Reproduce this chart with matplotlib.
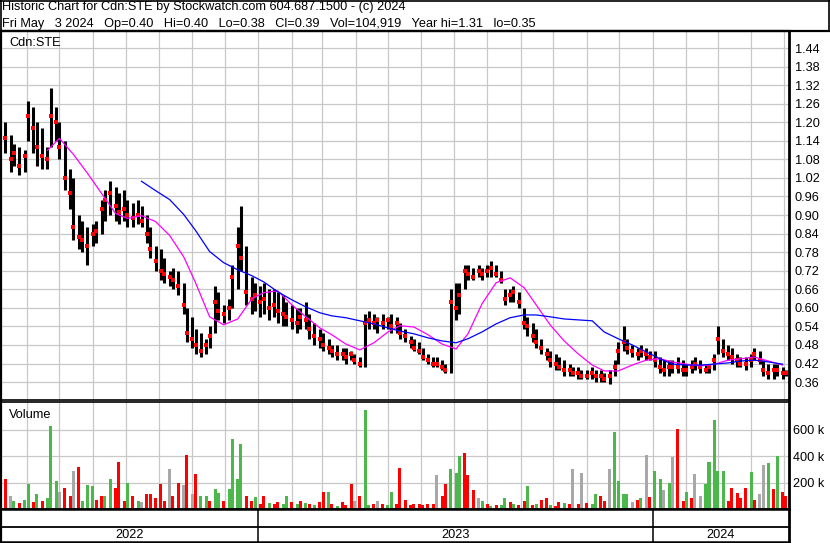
import matplotlib
matplotlib.use('Agg')
import matplotlib.pyplot as plt
from matplotlib.lines import Line2D
import numpy as np
import pandas as pd

plt.rcParams['font.family'] = ['Liberation Sans', 'DejaVu Sans']

# -------- header / labels
title1 = "Historic Chart for Cdn:STE by Stockwatch.com 604.687.1500 - (c) 2024"
title2 = "Fri May   3 2024   Op=0.40   Hi=0.40   Lo=0.38   Cl=0.39   Vol=104,919   Year hi=1.31   lo=0.35"
symbol = "Cdn:STE"
years = ['2022', '2023', '2024']
last_day = '2024-05-03'

# -------- price bars (one bar every 3 trading days)
hi = [1.20, 1.16, 1.13, 1.12, 1.11, 1.27, 1.25, 1.20, 1.18, 1.12,
      1.31, 1.25, 1.20, 1.14, 1.05, 1.02, 0.90, 0.88, 0.86, 0.87,
      0.88, 0.95, 0.98, 1.01, 0.99, 0.97, 0.98, 0.95, 0.94, 0.95,
      0.93, 0.90, 0.86, 0.80, 0.79, 0.76, 0.72, 0.73, 0.72, 0.68,
      0.60, 0.57, 0.53, 0.52, 0.50, 0.54, 0.67, 0.65, 0.61, 0.63,
      0.74, 0.86, 0.93, 0.80, 0.70, 0.68, 0.67, 0.68, 0.66, 0.66,
      0.65, 0.64, 0.62, 0.61, 0.60, 0.60, 0.62, 0.58, 0.55, 0.53,
      0.52, 0.50, 0.48, 0.48, 0.47, 0.47, 0.46, 0.45, 0.44, 0.58,
      0.59, 0.58, 0.57, 0.58, 0.57, 0.58, 0.57, 0.55, 0.53, 0.51,
      0.50, 0.49, 0.47, 0.45, 0.44, 0.44, 0.43, 0.42, 0.66, 0.68,
      0.68, 0.74, 0.74, 0.73, 0.74, 0.73, 0.74, 0.75, 0.74, 0.72,
      0.66, 0.66, 0.67, 0.65, 0.60, 0.57, 0.55, 0.53, 0.50, 0.47,
      0.46, 0.45, 0.44, 0.43, 0.42, 0.41, 0.41, 0.40, 0.40, 0.41,
      0.40, 0.40, 0.39, 0.40, 0.43, 0.49, 0.54, 0.50, 0.48, 0.47,
      0.48, 0.47, 0.46, 0.46, 0.44, 0.43, 0.43, 0.43, 0.44, 0.43,
      0.42, 0.43, 0.44, 0.43, 0.42, 0.42, 0.45, 0.54, 0.50, 0.48,
      0.47, 0.45, 0.44, 0.44, 0.45, 0.47, 0.46, 0.43, 0.42, 0.42,
      0.42, 0.41, 0.40]
lo = [1.10, 1.04, 1.06, 1.03, 1.04, 1.14, 1.10, 1.06, 1.05, 1.05,
      1.12, 1.14, 1.08, 0.98, 0.92, 0.82, 0.79, 0.78, 0.74, 0.80,
      0.81, 0.84, 0.88, 0.90, 0.88, 0.87, 0.88, 0.86, 0.86, 0.87,
      0.86, 0.81, 0.76, 0.72, 0.69, 0.68, 0.67, 0.66, 0.64, 0.58,
      0.49, 0.47, 0.45, 0.44, 0.45, 0.47, 0.52, 0.56, 0.55, 0.56,
      0.60, 0.66, 0.72, 0.61, 0.58, 0.59, 0.57, 0.58, 0.56, 0.57,
      0.55, 0.54, 0.54, 0.53, 0.52, 0.53, 0.53, 0.50, 0.48, 0.47,
      0.46, 0.45, 0.44, 0.43, 0.43, 0.42, 0.43, 0.42, 0.41, 0.41,
      0.53, 0.53, 0.52, 0.53, 0.53, 0.52, 0.52, 0.50, 0.49, 0.47,
      0.46, 0.45, 0.43, 0.42, 0.41, 0.41, 0.40, 0.39, 0.39, 0.56,
      0.58, 0.66, 0.69, 0.69, 0.70, 0.69, 0.70, 0.70, 0.70, 0.68,
      0.61, 0.62, 0.62, 0.60, 0.53, 0.51, 0.49, 0.47, 0.45, 0.43,
      0.41, 0.40, 0.40, 0.38, 0.38, 0.38, 0.37, 0.37, 0.37, 0.37,
      0.36, 0.36, 0.36, 0.355, 0.38, 0.42, 0.46, 0.45, 0.44, 0.43,
      0.44, 0.43, 0.43, 0.41, 0.39, 0.38, 0.38, 0.39, 0.39, 0.38,
      0.38, 0.39, 0.40, 0.39, 0.39, 0.39, 0.40, 0.45, 0.44, 0.43,
      0.42, 0.41, 0.41, 0.40, 0.41, 0.43, 0.42, 0.38, 0.37, 0.37,
      0.38, 0.37, 0.38]
cl = [1.15, 1.08, 1.10, 1.06, 1.09, 1.22, 1.18, 1.12, 1.09, 1.08,
      1.22, 1.20, 1.12, 1.02, 0.97, 0.86, 0.83, 0.82, 0.80, 0.84,
      0.85, 0.92, 0.95, 0.97, 0.93, 0.91, 0.92, 0.90, 0.89, 0.90,
      0.88, 0.84, 0.79, 0.75, 0.72, 0.71, 0.70, 0.69, 0.67, 0.61,
      0.52, 0.50, 0.48, 0.46, 0.48, 0.51, 0.62, 0.59, 0.58, 0.60,
      0.70, 0.80, 0.76, 0.65, 0.63, 0.64, 0.62, 0.63, 0.60, 0.61,
      0.59, 0.58, 0.57, 0.56, 0.55, 0.57, 0.56, 0.53, 0.51, 0.50,
      0.48, 0.47, 0.46, 0.45, 0.45, 0.44, 0.45, 0.43, 0.42, 0.55,
      0.56, 0.55, 0.56, 0.55, 0.56, 0.54, 0.55, 0.52, 0.51, 0.49,
      0.47, 0.46, 0.44, 0.43, 0.42, 0.42, 0.41, 0.40, 0.62, 0.60,
      0.64, 0.72, 0.71, 0.70, 0.72, 0.71, 0.72, 0.73, 0.71, 0.69,
      0.63, 0.64, 0.65, 0.62, 0.55, 0.54, 0.51, 0.49, 0.47, 0.45,
      0.43, 0.42, 0.41, 0.40, 0.40, 0.39, 0.39, 0.38, 0.38, 0.39,
      0.38, 0.38, 0.37, 0.38, 0.41, 0.46, 0.49, 0.47, 0.46, 0.45,
      0.46, 0.45, 0.44, 0.43, 0.41, 0.40, 0.41, 0.41, 0.41, 0.40,
      0.40, 0.41, 0.42, 0.41, 0.40, 0.41, 0.43, 0.50, 0.46, 0.45,
      0.44, 0.43, 0.42, 0.42, 0.43, 0.45, 0.43, 0.40, 0.39, 0.40,
      0.40, 0.39, 0.39]

# volume in thousands, direction g=up r=down n=unchanged
vol_k = [230, 100, 60, 45, 70, 190, 55, 115, 60, 80,
         630, 215, 130, 160, 100, 285, 320, 60, 180, 170,
         70, 100, 100, 230, 160, 355, 60, 200, 100, 60,
         50, 110, 115, 80, 190, 60, 300, 100, 200, 180,
         410, 110, 265, 95, 100, 60, 150, 120, 60, 150,
         530, 230, 490, 100, 60, 90, 40, 100, 45, 35,
         50, 40, 100, 55, 35, 60, 45, 40, 30, 50,
         130, 130, 40, 25, 50, 30, 190, 60, 100, 745,
         30, 40, 60, 35, 30, 130, 40, 310, 70, 30,
         35, 40, 30, 35, 40, 255, 100, 190, 305, 275,
         400, 420, 260, 140, 80, 60, 35, 25, 30, 30,
         80, 50, 40, 30, 60, 175, 30, 35, 70, 80,
         30, 25, 50, 45, 35, 300, 40, 275, 45, 40,
         110, 100, 60, 300, 580, 215, 110, 110, 50, 70,
         80, 405, 90, 290, 230, 140, 200, 390, 605, 60,
         130, 80, 265, 100, 190, 355, 675, 290, 285, 60,
         160, 120, 80, 160, 280, 70, 110, 330, 345, 150,
         400, 130, 100]
vol_dir = ("rngrggrgrg" "ggnrrnrggg" "rrggrrrgrg" "nrrrrrnrrn"
           "rnrggrggrg" "gggrrgrrgr" "rggrgrgrgr" "rgrgrrrnrg"
           "grnrggrrrr" "rrrrrnrrgg" "grrrngrgrg" "grgrrgrgrr"
           "grrgrnrnrg" "grrnggggnr" "gnrggngnrr" "grnngggggr"
           "rrrrgrnngr" "grr")

# moving averages, one value every 3 bars
ma_short_start = 9
ma_short = [1.109, 1.148, 1.096, 1.035, 0.970, 0.905, 0.889, 0.898, 0.879, 0.834,
            0.765, 0.681, 0.571, 0.545, 0.564, 0.629, 0.649, 0.655, 0.610, 0.571,
            0.535, 0.513, 0.483, 0.464, 0.487, 0.522, 0.542, 0.538, 0.513, 0.483,
            0.467, 0.516, 0.613, 0.681, 0.697, 0.665, 0.610, 0.545, 0.493, 0.451,
            0.415, 0.396, 0.396, 0.415, 0.431, 0.435, 0.425, 0.418, 0.412, 0.418,
            0.431, 0.435, 0.441, 0.428, 0.415]
ma_long_start = 30
ma_long = [1.009, 0.979, 0.950, 0.902, 0.850, 0.782, 0.746, 0.723, 0.704, 0.684,
           0.652, 0.626, 0.603, 0.584, 0.574, 0.568, 0.558, 0.548, 0.535, 0.525,
           0.516, 0.503, 0.493, 0.487, 0.500, 0.522, 0.548, 0.568, 0.577, 0.577,
           0.571, 0.564, 0.561, 0.558, 0.522, 0.500, 0.480, 0.457, 0.435, 0.418,
           0.415, 0.415, 0.418, 0.422, 0.428, 0.431, 0.425, 0.418]

price_ticks = np.round(np.arange(0.36, 1.441, 0.06), 2)
vol_ticks = [200, 400, 600]

n = len(hi)
dates = pd.bdate_range(end=last_day, periods=n, freq='3B')
x0 = pd.Timestamp('2022-05-08')
x1 = pd.Timestamp('2024-05-06')
months = pd.date_range('2022-06-01', '2024-05-01', freq='MS')

W, H = 830, 543
def box(l, t, r, b):
    return [l / W, 1 - b / H, (r - l) / W, (b - t) / H]

fig = plt.figure(figsize=(8.3, 5.43), dpi=100)
fs = 9.2
grid_c = '#c8c8c8'

# -------- price panel
ax = fig.add_axes(box(1, 31, 789, 400))
ax.set_xlim(x0, x1)
ax.set_ylim(0.302, 1.495)
ax.set_xticks(months)
ax.set_yticks(price_ticks)
ax.grid(True, color=grid_c, lw=0.9)
ax.set_axisbelow(True)
ax.tick_params(axis='x', length=0, labelbottom=False)
ax.yaxis.tick_right()
ax.tick_params(axis='y', length=0, pad=4, labelsize=fs)
ax.set_yticklabels(['%.2f' % t for t in price_ticks])
ax.vlines(dates, lo, hi, color='black', lw=2.2)
ax.plot(dates, cl, 's', color='red', ms=2.2, mew=0)
i_s = np.arange(ma_short_start, ma_short_start + 3 * len(ma_short), 3)
ax.plot(dates[i_s], ma_short, color='#ff00ff', lw=0.9)
i_l = np.arange(ma_long_start, ma_long_start + 3 * len(ma_long), 3)
ax.plot(dates[i_l], ma_long, color='#0000ff', lw=0.9)
ax.text(8 / 788, 1 - 15.5 / 369, symbol, transform=ax.transAxes, fontsize=fs, va='baseline')
for s in ax.spines.values():
    s.set_color('black')
ax.spines['left'].set_linewidth(1.6)
ax.spines['right'].set_linewidth(2.0)
ax.spines['top'].set_linewidth(1.6)
ax.spines['bottom'].set_linewidth(1.2)

# -------- volume panel
axv = fig.add_axes(box(1, 402, 789, 509))
axv.set_xlim(x0, x1)
axv.set_ylim(0, 808)
axv.set_xticks(months)
axv.set_yticks(vol_ticks)
axv.grid(True, color=grid_c, lw=0.9)
axv.set_axisbelow(True)
axv.tick_params(axis='x', length=0, labelbottom=False)
axv.yaxis.tick_right()
axv.tick_params(axis='y', length=0, pad=3, labelsize=fs)
axv.set_yticklabels(['%d k' % v for v in vol_ticks])
cmap = {'g': '#4cb84c', 'r': '#ff0000', 'n': '#a8a8a8'}
axv.bar(dates, vol_k, width=2.8, color=[cmap[c] for c in vol_dir], lw=0)
axv.text(8 / 788, 1 - 16 / 107, 'Volume', transform=axv.transAxes, fontsize=fs, va='baseline')
for s in axv.spines.values():
    s.set_color('black')
axv.spines['left'].set_linewidth(1.6)
axv.spines['right'].set_linewidth(2.0)
axv.spines['top'].set_linewidth(1.2)
axv.spines['bottom'].set_linewidth(1.8)

# -------- year strip
axb = fig.add_axes(box(1, 509, 789, 542))
axb.set_xlim(x0, x1)
axb.set_ylim(0, 33)
axb.set_xticks([])
axb.set_yticks([])
axb.axhline(15, color='black', lw=1.3)
bounds = [x0] + [pd.Timestamp(y + '-01-01') for y in years[1:]] + [x1]
for b in bounds[1:-1]:
    axb.axvline(b, color='black', lw=1.1)
for k, y in enumerate(years):
    mid = bounds[k] + (bounds[k + 1] - bounds[k]) / 2
    axb.text(mid, 7.5, y, ha='center', va='center', fontsize=fs)
for s in axb.spines.values():
    s.set_color('black')
axb.spines['left'].set_linewidth(1.6)
axb.spines['right'].set_linewidth(2.0)
axb.spines['top'].set_linewidth(1.8)
axb.spines['bottom'].set_linewidth(1.8)

# -------- header box
fig.add_artist(Line2D([0, 1], [1 - 0.6 / H, 1 - 0.6 / H], color='black', lw=1.2))
fig.add_artist(Line2D([0, 1], [1 - 30.5 / H, 1 - 30.5 / H], color='black', lw=1.6))
fig.add_artist(Line2D([0.6 / W, 0.6 / W], [1, 1 - 542 / H], color='black', lw=1.2))
fig.add_artist(Line2D([828.5 / W, 828.5 / W], [1, 1 - 30.5 / H], color='black', lw=1.2))
fig.text(2 / W, 1 - 10 / H, title1, fontsize=fs, va='baseline')
fig.text(2 / W, 1 - 26.5 / H, title2, fontsize=fs, va='baseline')

fig.savefig('out.png', dpi=100)
